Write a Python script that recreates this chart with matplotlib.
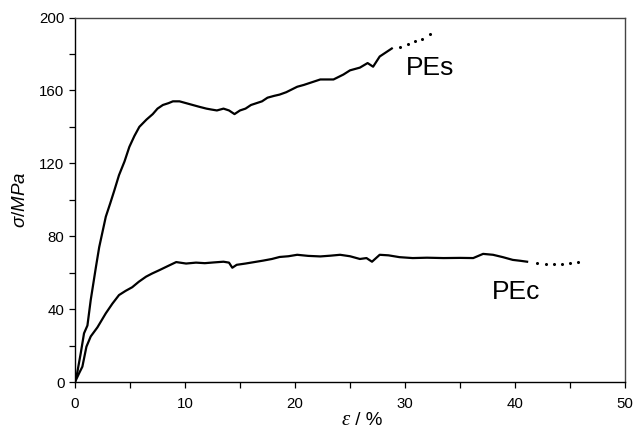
import matplotlib
matplotlib.use("Agg")
import matplotlib.pyplot as plt

# PEs solid curve (strain %, stress MPa)
pes_x = [0, 0.2, 0.52, 0.82, 1.13, 1.43, 1.9, 2.2, 2.8, 3.2, 3.57, 4.0, 4.5, 4.94, 5.4, 5.85,
         6.5, 7.07, 7.5, 7.99, 8.5, 8.9, 9.5, 10.1, 10.7, 11.3, 11.95, 12.4, 12.9, 13.5, 14.0,
         14.5, 15.0, 15.5, 16.0, 16.5, 17.0, 17.5, 18.1, 18.6, 19.2, 19.7, 20.2, 20.8, 21.3,
         22.3, 23.5, 24.0, 24.4, 25.0, 25.9, 26.6, 27.1, 27.7, 28.3, 28.8]
pes_y = [0, 5, 15.7, 26.7, 31, 45, 63, 74, 90.7, 98, 105, 113.5, 121, 129, 135, 140,
         144, 147, 150, 152, 153, 154, 154, 153, 152, 151, 150, 149.5, 149, 150, 149,
         147, 149, 150, 152, 153, 154, 156, 157, 157.7, 159, 160.5, 162, 163, 164,
         166, 166, 167.5, 168.7, 171, 172.5, 175, 173, 178.6, 181, 183]
# PEs dotted extension
pes_dot_x = [29.5, 30.3, 30.9, 31.5, 32.3]
pes_dot_y = [184, 185.7, 187, 188, 191]

# PEc solid curve
pec_x = [0, 0.37, 0.67, 1.04, 1.43, 2.04, 2.8, 3.4, 4.0, 4.6, 5.2, 5.8, 6.46, 7.0, 7.68,
         8.4, 9.2, 10.1, 11.0, 11.8, 12.6, 13.5, 14.0, 14.3, 14.7, 15.5, 16.3, 17.1, 17.9,
         18.6, 19.4, 20.2, 21.2, 22.3, 23.2, 24.1, 25.0, 25.9, 26.5, 27.0, 27.7, 28.5,
         29.5, 30.7, 32.0, 33.5, 35.0, 36.2, 37.1, 38.0, 38.9, 39.8, 40.5, 41.1]
pec_y = [0, 4.75, 8.4, 19.4, 25, 30, 37.7, 43, 47.7, 50, 52, 55, 57.8, 59.5, 61.4,
         63.5, 65.8, 65, 65.5, 65.2, 65.6, 66, 65.5, 62.7, 64.3, 65, 65.8, 66.6, 67.5,
         68.6, 69, 69.8, 69.2, 68.9, 69.3, 69.8, 69, 67.5, 68, 66, 69.8, 69.5,
         68.5, 68, 68.2, 68, 68.1, 68, 70.3, 69.8, 68.5, 67, 66.5, 66]
# PEc dotted extension
pec_dot_x = [42.0, 42.8, 43.5, 44.3, 45.0, 45.7]
pec_dot_y = [65.5, 65.0, 64.5, 65.0, 65.5, 65.8]

label_pes = "PEs"
label_pec = "PEc"
x_ticks = [0, 10, 20, 30, 40, 50]
y_ticks = [0, 40, 80, 120, 160, 200]

plt.rcParams['font.family'] = ['Liberation Sans', 'DejaVu Sans']
plt.rcParams['mathtext.fontset'] = 'custom'
plt.rcParams['mathtext.rm'] = 'Liberation Sans'
plt.rcParams['mathtext.it'] = 'Liberation Sans:italic'

fig = plt.figure(figsize=(6.44, 4.33), dpi=100)
ax = fig.add_axes([75/644, 1 - 382/433, 550/644, (382 - 17.5)/433])

ax.plot(pes_x, pes_y, color='black', lw=1.6)
ax.plot(pes_dot_x, pes_dot_y, ls='', marker='o', ms=1.2, color='black')
ax.plot(pec_x, pec_y, color='black', lw=1.6)
ax.plot(pec_dot_x, pec_dot_y, ls='', marker='o', ms=1.2, color='black')

ax.text(32.3, 172.5, label_pes, fontsize=19, ha='center', va='center')
ax.text(40.1, 49.5, label_pec, fontsize=19, ha='center', va='center')

ax.set_xlim(0, 50)
ax.set_ylim(0, 200)
ax.set_xticks(x_ticks)
ax.set_yticks(y_ticks)
ax.set_xticks([5, 15, 25, 35, 45], minor=True)
ax.set_yticks([20, 60, 100, 140, 180], minor=True)
ax.tick_params(which='both', direction='out', labelsize=10.8, width=0.9, color='black')
ax.tick_params(which='major', length=4)
ax.tick_params(which='minor', length=4)
ax.tick_params(axis='x', pad=7)

for s in ['left', 'bottom']:
    ax.spines[s].set_color('black')
    ax.spines[s].set_linewidth(1.0)
for s in ['top', 'right']:
    ax.spines[s].set_color('#444444')
    ax.spines[s].set_linewidth(1.0)

ax.set_ylabel(r'$\sigma$/$\mathit{MPa}$', fontsize=13.5, labelpad=7)
# x label: italic serif epsilon + " / %"
ax.text(0.5, -0.118, 'ε', transform=ax.transAxes, fontsize=15, fontstyle='italic',
        family='Liberation Serif', ha='right', va='baseline')
ax.text(0.5, -0.118, ' / %', transform=ax.transAxes, fontsize=13.5, ha='left', va='baseline')

fig.savefig('out.png', dpi=100)
